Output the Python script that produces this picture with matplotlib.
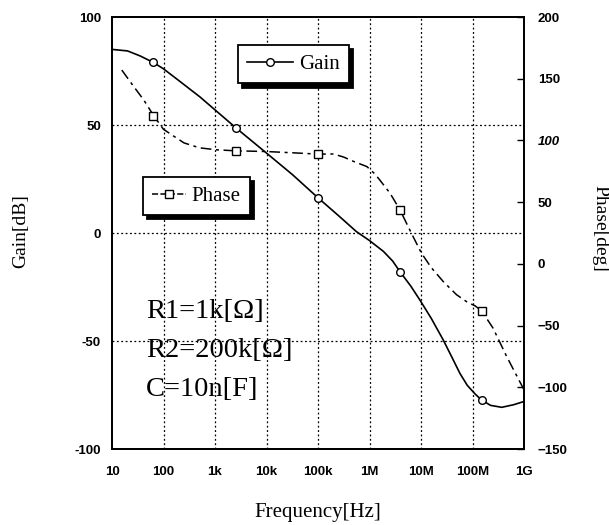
import matplotlib
matplotlib.use('Agg')
import matplotlib.pyplot as plt
from matplotlib.lines import Line2D

# gain curve (Hz, dB)
gain_f = [10, 20, 35, 63, 100, 200, 510, 1000, 2600, 10000, 32000, 100000,
          251000, 560000, 1000000, 1860000, 2820000, 3900000, 6300000,
          9500000, 15800000, 27000000, 39800000, 57000000, 79000000,
          112000000, 150000000, 224000000, 370000000, 630000000, 1000000000]
gain_db = [85, 84.3, 82, 79, 76, 70.5, 63, 57, 48.5, 37, 27, 16.3,
           8, 0.6, -3.5, -8.5, -13, -17.9, -24.5,
           -31, -39.5, -49.5, -57.5, -65, -70.5,
           -74.5, -77.3, -79.8, -80.7, -79.5, -78]

# phase curve (Hz, deg)
phase_f = [15.5, 25, 41, 66, 100, 145, 250, 500, 1070, 2500, 10000, 32000,
           100000, 200000, 316000, 490000, 890000, 1260000, 1580000, 2500000,
           3900000, 6300000, 10200000, 15800000, 27000000, 49000000,
           79000000, 112000000, 150000000, 250000000, 460000000, 1000000000]
phase_deg = [157, 145, 133, 119.4, 109, 104.5, 98, 94, 92.4, 91.6, 91, 90,
             88.9, 89, 86.5, 83, 78.8, 73, 68, 57.3,
             43.8, 26, 8.7, -3, -14.3, -25,
             -31, -34, -38, -52, -75, -102]

# marker points
mark_f = [63, 2600, 100000, 3900000, 150000000]
mark_gain = [79, 48.5, 16.3, -17.9, -77.3]
mark_phase = [119.4, 91.6, 88.9, 43.8, -38]

xticks = [1e1, 1e2, 1e3, 1e4, 1e5, 1e6, 1e7, 1e8, 1e9]
xlabels = ['10', '100', '1k', '10k', '100k', '1M', '10M', '100M', '1G']
gain_ticks = [-100, -50, 0, 50, 100]
phase_ticks = [-150, -100, -50, 0, 50, 100, 150, 200]

serif = 'Liberation Serif'
tickfont = {'family': 'Liberation Sans', 'weight': 'bold', 'size': 9.5}

fig = plt.figure(figsize=(6.09, 5.25), dpi=100)
ax = fig.add_axes([112/609, 1-449/525, 412/609, 432/525])
ax2 = ax.twinx()

ax.set_xscale('log')
ax.set_xlim(10, 1e9)
ax.set_ylim(-100, 100)
ax2.set_ylim(-150, 200)

# grid
for x in xticks[1:-1]:
    ax.axvline(x, color='k', lw=0.9, ls=(0, (1.5, 2)), zorder=1)
for y in [50, 0, -50]:
    ax.axhline(y, color='k', lw=0.9, ls=(0, (1.5, 2)), zorder=1)

ax.plot(gain_f, gain_db, color='k', lw=1.2, zorder=3)
ax.plot(mark_f, mark_gain, ls='none', marker='o', ms=5.5, mfc='white',
        mec='k', mew=1, zorder=4)
ax2.plot(phase_f, phase_deg, color='k', lw=1.1,
         ls=(0, (7, 3, 2, 3)), zorder=3)
ax2.plot(mark_f, mark_phase, ls='none', marker='s', ms=5.5, mfc='white',
         mec='k', mew=1, zorder=4)

ax.set_xticks(xticks)
ax.set_xticklabels(xlabels, fontdict=tickfont)
ax.xaxis.set_minor_locator(plt.NullLocator())
ax.set_yticks(gain_ticks)
ax.set_yticklabels([str(v) for v in gain_ticks], fontdict=tickfont)
ax2.set_yticks(phase_ticks)
ax2.set_yticklabels([str(v).replace('-', '\u2212') for v in phase_ticks],
                    fontdict=tickfont)
for lab in ax2.get_yticklabels():
    if lab.get_text() == '100':
        lab.set_style('italic')
ax.tick_params(axis='x', length=0, pad=12)
ax.tick_params(axis='y', length=0, pad=8)
ax2.tick_params(axis='y', direction='in', length=5, width=1, pad=10)
for a in (ax, ax2):
    for s in a.spines.values():
        s.set_linewidth(1.3)

# legends
gain_h = Line2D([], [], color='k', lw=1.2, marker='o', ms=5.5, mfc='white', mec='k')
phase_h = Line2D([], [], color='k', lw=1.1, ls=(0, (4, 1.5)), marker='s',
                 ms=5.5, mfc='white', mec='k')
shadow = {'color': 'black', 'alpha': 1, 'ox': 3, 'oy': -3}
leg1 = ax2.legend([gain_h], ['Gain'], loc='upper left',
                  bbox_to_anchor=(0.305, 0.935), frameon=True, fancybox=False,
                  edgecolor='k', shadow=shadow,
                  prop={'family': serif, 'size': 15}, handlelength=2.2,
                  handletextpad=0.3, borderpad=0.45, borderaxespad=0,
                  framealpha=1)
leg1.get_frame().set_linewidth(1.3)
ax2.add_artist(leg1)
leg2 = ax2.legend([phase_h], ['Phase'], loc='upper left',
                  bbox_to_anchor=(0.075, 0.63), frameon=True, fancybox=False,
                  edgecolor='k', shadow=shadow,
                  prop={'family': serif, 'size': 15}, handlelength=1.6,
                  handletextpad=0.3, borderpad=0.45, borderaxespad=0,
                  framealpha=1)
leg2.get_frame().set_linewidth(1.3)

# circuit values
params = ['R1=1k[\u03a9]', 'R2=200k[\u03a9]', 'C=10n[F]']
for i, t in enumerate(params):
    ax.text(0.083, 0.319 - i*0.091, t, transform=ax.transAxes, va='center',
            ha='left', family=serif, fontsize=20.5, zorder=5)

fig.text(21/609, 1-231/525, 'Gain[dB]', rotation=90, va='center', ha='center',
         family=serif, fontsize=14)
fig.text(600/609, 1-228/525, 'Phase[deg]', rotation=-90, va='center',
         ha='center', family=serif, fontsize=14)
fig.text(318/609, 1-513/525, 'Frequency[Hz]', va='center', ha='center',
         family=serif, fontsize=15)

fig.savefig('out.png', dpi=100)
